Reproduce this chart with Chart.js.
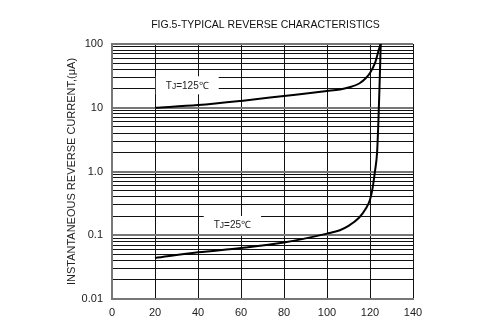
<!DOCTYPE html>
<html>
<head>
<meta charset="utf-8">
<script src="https://cdn.jsdelivr.net/npm/chart.js@4/dist/chart.umd.min.js"></script>
<style>
  html, body { margin: 0; padding: 0; background: #fff; }
  #wrap { width: 488px; height: 323px; }
</style>
</head>
<body>
<div id="wrap"><canvas id="c" width="488" height="323"></canvas></div>
<script>
// ---- data ----
const chartTitle = "FIG.5-TYPICAL REVERSE CHARACTERISTICS";
const yAxisTitle = "INSTANTANEOUS REVERSE CURRENT,(μA)";
const xTickValues = [0, 20, 40, 60, 80, 100, 120, 140];
const yMajorTicks = [0.01, 0.1, 1, 10, 100];
const yTickLabels = ["0.01", "0.1", "1.0", "10", "100"];

const curve125X = [20, 40, 60, 80, 100, 106, 110, 115, 118, 120, 122.3, 123.9, 124.9];
const curve125Y = [10, 11, 12.8, 15.3, 18.3, 19.4, 20.8, 24, 29, 35, 50, 77, 100];

const curve25X = [20, 40, 60, 80, 100, 106, 110, 115, 118, 120, 121.2, 122.3, 123.3, 123.9, 124.4, 125];
const curve25Y = [0.044, 0.054, 0.063, 0.077, 0.106, 0.12, 0.14, 0.19, 0.26, 0.36, 0.55, 1.0, 2, 6, 20, 100];

const seriesLabels = ["TJ=125℃", "TJ=25℃"];
const labelAnchorX = [35, 56];      // data x for the curve labels
const labelAnchorY = [22.5, 0.145]; // data y for the curve labels

// build minor log ticks from the major decades
const yTickValues = [];
for (let i = 0; i < yMajorTicks.length; i++) {
  const d = yMajorTicks[i];
  if (i === yMajorTicks.length - 1) { yTickValues.push(d); break; }
  for (let m = 1; m <= 9; m++) yTickValues.push(+(d * m).toPrecision(3));
}

const FONT = "'Liberation Sans', Arial, sans-serif";

const labelPlugin = {
  id: 'curveLabels',
  afterDatasetsDraw(chart) {
    const ctx = chart.ctx;
    const xs = chart.scales.x, ys = chart.scales.y;
    ctx.save();
    seriesLabels.forEach((txt, i) => {
      const cx = xs.getPixelForValue(labelAnchorX[i]);
      const cy = ys.getPixelForValue(labelAnchorY[i]);
      const t = txt.charAt(0), j = txt.charAt(1), rest = txt.slice(2);
      ctx.font = "10px " + FONT;
      const wT = ctx.measureText(t).width;
      ctx.font = "8.5px " + FONT;
      const wJ = ctx.measureText(j).width;
      ctx.font = "10px " + FONT;
      const wR = ctx.measureText(rest).width;
      const w = wT + wJ + wR;
      ctx.fillStyle = '#fff';
      ctx.fillRect(cx - w / 2 - 10, cy - 9, w + 20, 18);
      ctx.fillStyle = '#222';
      ctx.textBaseline = 'alphabetic';
      ctx.textAlign = 'left';
      const base = cy + 3.5;
      let x0 = cx - w / 2;
      ctx.font = "10px " + FONT;
      ctx.fillText(t, x0, base);
      ctx.font = "8.5px " + FONT;
      ctx.fillText(j, x0 + wT, base);
      ctx.font = "10px " + FONT;
      ctx.fillText(rest, x0 + wT + wJ, base);
    });
    ctx.restore();
  },
  afterDraw(chart) {
    const ctx = chart.ctx;
    const a = chart.chartArea;
    ctx.save();
    ctx.font = "10.5px " + FONT;
    ctx.fillStyle = '#111';
    ctx.textAlign = 'center';
    ctx.textBaseline = 'middle';
    ctx.fillText(chartTitle, (a.left + a.right) / 2 + 3, 25);
    ctx.restore();
  }
};

new Chart(document.getElementById('c'), {
  type: 'line',
  data: {
    datasets: [
      {
        label: seriesLabels[0],
        data: curve125X.map((x, i) => ({ x, y: curve125Y[i] })),
        borderColor: '#000',
        borderWidth: 2,
        pointRadius: 0,
        cubicInterpolationMode: 'monotone',
        fill: false
      },
      {
        label: seriesLabels[1],
        data: curve25X.map((x, i) => ({ x, y: curve25Y[i] })),
        borderColor: '#000',
        borderWidth: 2,
        pointRadius: 0,
        cubicInterpolationMode: 'monotone',
        fill: false
      }
    ]
  },
  plugins: [labelPlugin],
  options: {
    responsive: false,
    animation: false,
    layout: { padding: { top: 44, right: 75, left: 0, bottom: 0 } },
    plugins: { legend: { display: false }, tooltip: { enabled: false }, title: { display: false } },
    scales: {
      x: {
        type: 'linear',
        min: 0, max: 140,
        afterBuildTicks: s => { s.ticks = xTickValues.map(v => ({ value: v })); },
        afterFit: s => { s.height = 24; },
        grid: { color: '#111', lineWidth: 1, drawTicks: false },
        border: { color: '#777', width: 2 },
        ticks: { padding: 7, color: '#222', font: { family: FONT, size: 11 }, autoSkip: false, maxRotation: 0 }
      },
      y: {
        type: 'logarithmic',
        min: 0.01, max: 100,
        afterBuildTicks: s => { s.ticks = yTickValues.map(v => ({ value: v })); },
        afterFit: s => { s.width = 112; },
        grid: {
          drawTicks: false,
          color: ctx => {
            const v = ctx.tick && ctx.tick.value;
            return yMajorTicks.some(m => Math.abs(m - v) < 1e-9) ? '#777' : '#111';
          },
          lineWidth: ctx => {
            const v = ctx.tick && ctx.tick.value;
            return yMajorTicks.some(m => Math.abs(m - v) < 1e-9) ? 2 : 1;
          }
        },
        border: { color: '#777', width: 2 },
        ticks: {
          padding: 9,
          color: '#222',
          autoSkip: false,
          font: { family: FONT, size: 11 },
          callback: (v) => {
            const k = yMajorTicks.findIndex(m => Math.abs(m - v) < 1e-9);
            return k >= 0 ? yTickLabels[k] : '';
          }
        },
        title: {
          display: true,
          text: yAxisTitle,
          color: '#222',
          font: { family: FONT, size: 11 },
          padding: { top: 65, bottom: 0 }
        }
      }
    }
  }
});
</script>
</body>
</html>
